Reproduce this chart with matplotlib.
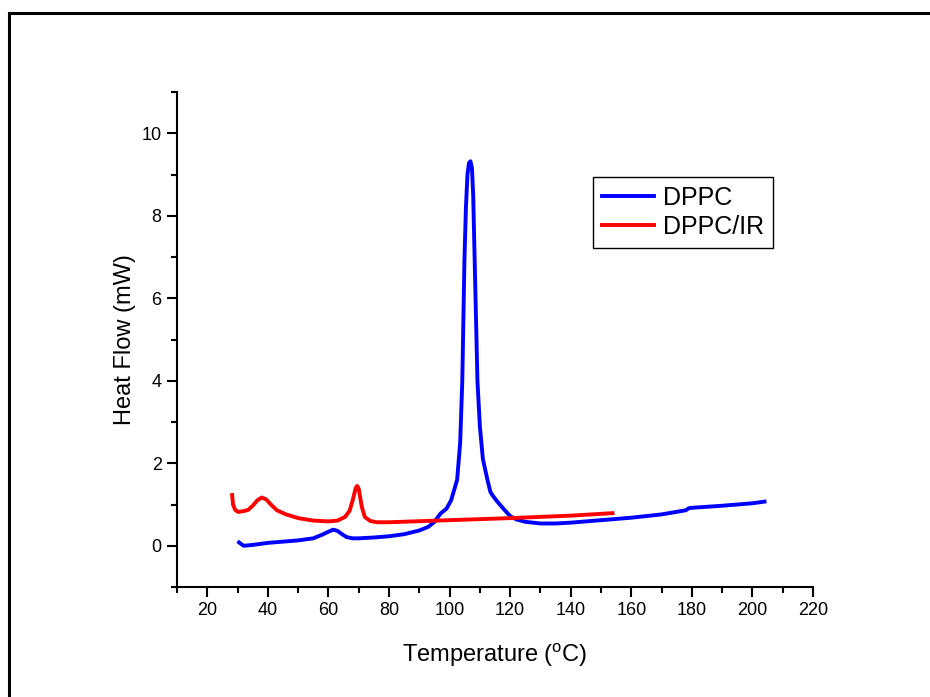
#!/usr/bin/env python3

import matplotlib
matplotlib.use("Agg")
import matplotlib.pyplot as plt
from matplotlib.patches import Rectangle
from matplotlib.ticker import MultipleLocator

# DSC curves
dppc_temp = [30.5, 32, 35, 40, 45, 50, 55, 58, 60, 61.6, 63, 64.5, 66, 68, 70, 75, 80, 85,
             90, 93, 95, 97, 99, 100.5, 101.5, 102.5, 103.5, 104.2, 104.9, 105.4, 105.9,
             106.4, 106.9, 107.4, 107.8, 108.2, 108.7, 109.2, 110, 111, 112.5, 113.5, 114.5,
             116, 118, 120, 122, 125, 130, 135, 140, 150, 160, 170, 178, 179, 180, 190, 200,
             204]
dppc_heat = [0.08, 0.0, 0.02, 0.07, 0.1, 0.13, 0.18, 0.27, 0.34, 0.39, 0.36, 0.28, 0.21,
             0.18, 0.18, 0.2, 0.23, 0.28, 0.37, 0.46, 0.58, 0.78, 0.9, 1.1, 1.35, 1.6, 2.5,
             4.0, 6.9, 8.2, 9.0, 9.28, 9.32, 9.15, 8.5, 7.2, 5.6, 4.0, 2.9, 2.1, 1.6, 1.3,
             1.19, 1.05, 0.88, 0.72, 0.64, 0.58, 0.54, 0.54, 0.56, 0.62, 0.68, 0.76, 0.86,
             0.91, 0.92, 0.97, 1.03, 1.07]

ir_temp = [28.2, 28.5, 29.2, 30.2, 32, 33.5, 35, 36.5, 38, 39.5, 41, 43, 46, 50, 55, 60,
           63, 65.5, 67, 68, 69, 69.5, 70, 71, 72, 73.8, 76, 80, 100, 120, 140, 153.8]
ir_heat = [1.23, 1.0, 0.87, 0.82, 0.84, 0.87, 0.97, 1.1, 1.17, 1.12, 1.0, 0.86, 0.76, 0.67,
           0.61, 0.59, 0.61, 0.7, 0.85, 1.1, 1.4, 1.45, 1.38, 0.95, 0.7, 0.6, 0.57, 0.57,
           0.62, 0.67, 0.73, 0.79]

labels = ["DPPC", "DPPC/IR"]
xticks = list(range(20, 240, 20))
yticks = list(range(0, 12, 2))


def plot_dsc():
    plt.rcParams["font.family"] = ["Liberation Sans", "DejaVu Sans"]
    plt.rcParams["mathtext.fontset"] = "custom"
    plt.rcParams["mathtext.rm"] = "Liberation Sans"

    fig = plt.figure(figsize=(9.3, 6.97), dpi=100)
    ax = fig.add_axes([177 / 930, 1 - 587 / 697, (813 - 177) / 930, (587 - 92) / 697])

    ax.plot(dppc_temp, dppc_heat, color="#0000ff", lw=2.8, label=labels[0])
    ax.plot(ir_temp, ir_heat, color="#ff0000", lw=2.8, label=labels[1])

    ax.set_xlim(10, 220)
    ax.set_ylim(-1, 11)
    ax.set_xticks(xticks)
    ax.set_yticks(yticks)
    ax.xaxis.set_minor_locator(MultipleLocator(10))
    ax.yaxis.set_minor_locator(MultipleLocator(1))
    ax.spines["top"].set_visible(False)
    ax.spines["right"].set_visible(False)
    for s in ("left", "bottom"):
        ax.spines[s].set_linewidth(1.5)
    ax.tick_params(which="major", length=7, width=1.5, labelsize=13, pad=4)
    ax.tick_params(which="minor", length=4, width=1.5)

    ax.set_xlabel("Temperature ($^{\\rm o}$C)", fontsize=17, labelpad=16)
    ax.set_ylabel("Heat Flow (mW)", fontsize=17, labelpad=4)

    leg = ax.legend(loc="upper left", bbox_to_anchor=(593 / 930, 1 - 177 / 697),
                    bbox_transform=fig.transFigure, borderaxespad=0, fontsize=18,
                    fancybox=False, edgecolor="black", framealpha=1,
                    handlelength=2.1, handletextpad=0.35, labelspacing=0.2,
                    borderpad=0.35)
    leg.get_frame().set_linewidth(1.0)

    # page border (only left and top edges show in the picture)
    fig.patches.append(Rectangle((9 / 930, -0.1), 1.2, 1 - 13 / 697 + 0.1,
                                 transform=fig.transFigure, fill=False,
                                 edgecolor="black", lw=2.2))

    fig.savefig("out.png", dpi=100)


if __name__ == "__main__":
    plot_dsc()
